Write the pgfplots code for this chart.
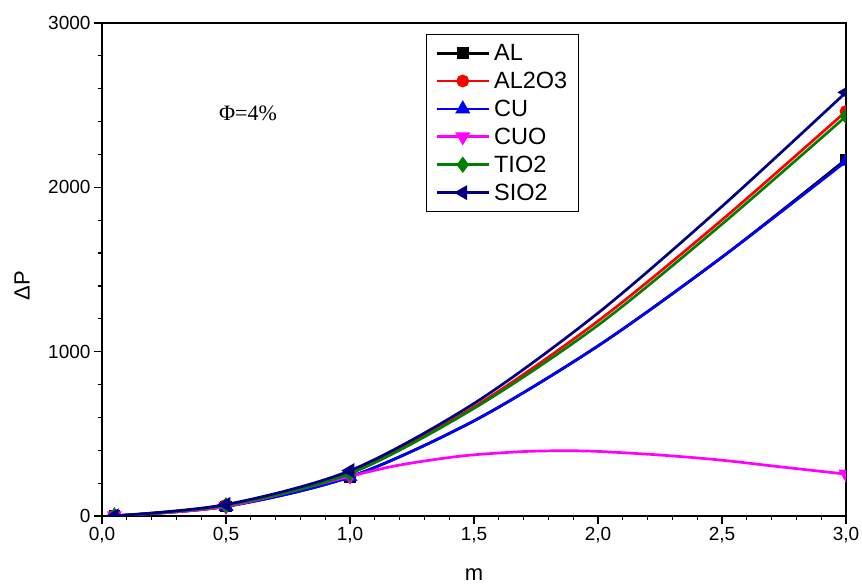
\documentclass[border=0pt]{standalone}
\usepackage{pgfplots}
\pgfplotsset{compat=1.18}
\usepackage{fontspec}
\setmainfont{Liberation Sans}
\newfontfamily\seriffont{Liberation Serif}
\definecolor{cuo}{RGB}{255,0,255}
\definecolor{tio}{RGB}{0,128,0}
\definecolor{sio}{RGB}{0,0,128}
\begin{document}
\begin{tikzpicture}
\begin{axis}[
  scale only axis, width=744pt, height=493pt,
  xmin=0, xmax=3, ymin=0, ymax=3000,
  xtick={0,0.5,1,1.5,2,2.5,3},
  xticklabels={{0,0},{0,5},{1,0},{1,5},{2,0},{2,5},{3,0}},
  ytick={0,1000,2000,3000},
  minor x tick num=4, minor y tick num=4,
  xtick pos=left, ytick pos=left, tick align=outside,
  major tick length=8pt, minor tick length=4pt,
  every tick/.style={black, line width=1.2pt},
  axis line style={line width=1.2pt},
  /pgf/number format/assume math mode=true,
  /pgf/number format/1000 sep={},
  tick label style={font=\fontsize{19}{22}\selectfont},
  xlabel={m}, ylabel={ΔP},
  xlabel style={font=\fontsize{22}{26}\selectfont, at={(axis description cs:0.5,-0.1197)}, anchor=center},
  ylabel style={font=\fontsize{22}{26}\selectfont, at={(axis description cs:-0.1075,0.4665)}, anchor=center},
  clip marker paths=true,
  every axis plot/.append style={line width=2.7pt, smooth},
  legend style={at={(axis description cs:0.4355,0.9777)}, anchor=north west,
    draw=black, line width=0.8pt, font=\fontsize{23.5}{27}\selectfont,
    legend cell align=left, row sep=6pt, inner xsep=9pt, inner ysep=8pt,
    /tikz/every odd column/.append style={column sep=2pt}},
  legend image code/.code={\draw[mark indices={2}] plot coordinates {(0pt,0pt) (26pt,0pt) (52pt,0pt)};},
]
\addplot[black, mark=square*, mark size=4.5pt, mark indices={1,2,3,7}] coordinates {
(0.05,1)(0.5,58)(1,238)(1.5,579)(2.0,1035)(2.5,1575)(3,2170)};
\addlegendentry{AL}
\addplot[red, mark=*, mark size=5pt, mark indices={1,2,3,7}] coordinates {
(0.05,1)(0.5,66)(1,262)(1.5,664)(2.0,1186)(2.5,1802)(3,2462)};
\addlegendentry{AL2O3}
\addplot[blue, mark=triangle*, mark size=6pt, mark indices={1,2,3,7}] coordinates {
(0.05,1)(0.5,58)(1,238)(1.5,579)(2.0,1035)(2.5,1575)(3,2158)};
\addlegendentry{CU}
\addplot[cuo, mark=triangle*, mark size=6pt, mark options={rotate=180}, mark indices={1,2,3,12}] coordinates {
(0.05,1)(0.5,58)(1,242)(1.2,310)(1.45,365)(1.685,391)(1.85,397)(2.0,393)(2.25,371)(2.49,341)(2.73,300)(3,255)};
\addlegendentry{CUO}
\addplot[tio, mark=diamond*, mark size=6pt, mark indices={1,2,3,7}] coordinates {
(0.05,1)(0.5,64)(1,258)(1.5,655)(2.0,1161)(2.5,1776)(3,2432)};
\addlegendentry{TIO2}
\addplot[sio, mark=triangle*, mark size=6pt, mark options={rotate=90}, mark indices={1,2,3,7}] coordinates {
(0.05,1)(0.5,70)(1,276)(1.5,685)(2.0,1235)(2.5,1884)(3,2578)};
\addlegendentry{SIO2}
\node[font=\seriffont\fontsize{22}{26}\selectfont, anchor=center] at (axis cs:0.589,2453) {Φ=4\%};
\end{axis}
\pgfresetboundingbox
\path[use as bounding box] ([xshift=-102pt,yshift=-69pt]current axis.south west) rectangle ([xshift=16pt,yshift=23pt]current axis.north east);
\end{tikzpicture}
\end{document}
